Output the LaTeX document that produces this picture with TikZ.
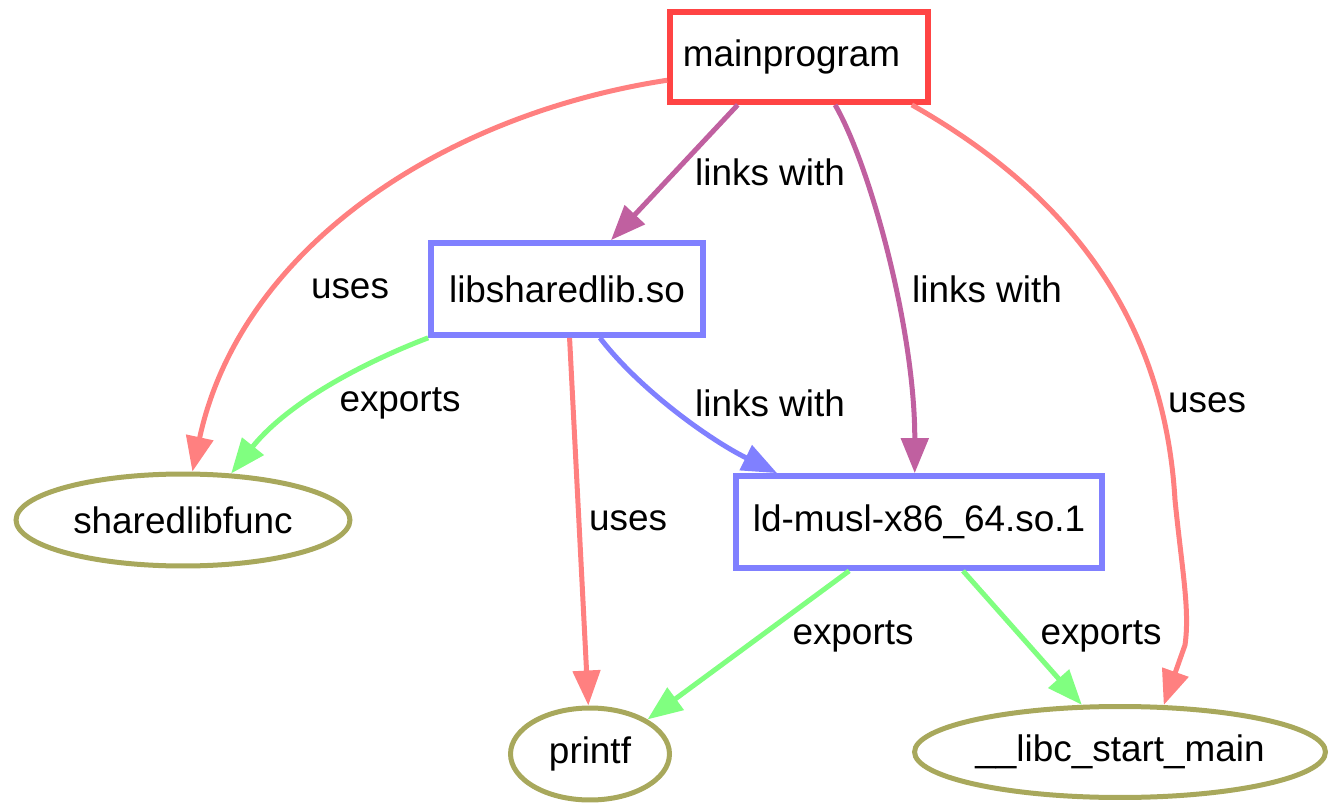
\documentclass[tikz,border=0pt]{standalone}
\usepackage{fontspec}
\setmainfont{Liberation Sans}
\usetikzlibrary{arrows.meta,shapes.geometric}

\definecolor{boxred}{HTML}{FF4444}
\definecolor{boxblue}{HTML}{8080FF}
\definecolor{symolive}{HTML}{A8A85C}
\definecolor{edgered}{HTML}{FF8080}
\definecolor{edgepurple}{HTML}{C060A0}
\definecolor{edgeblue}{HTML}{8080FF}
\definecolor{edgegreen}{HTML}{80FF80}

\begin{document}
\begin{tikzpicture}[x=0.02cm,y=-0.02cm,
  font=\fontsize{21}{25}\selectfont,
  binbox/.style={draw, rectangle, line width=0.115cm, inner sep=0pt, minimum height=1.84cm},
  symbol/.style={draw=symolive, ellipse, line width=0.1cm, inner sep=0pt, minimum height=1.84cm},
  edge/.style={line width=0.1cm, -{Triangle[length=0.7cm,width=0.54cm]}},
  uses/.style={edge, draw=edgered},
  linkswith/.style={edge, draw=edgepurple},
  libslink/.style={edge, draw=edgeblue},
  exports/.style={edge, draw=edgegreen},
  lbl/.style={inner sep=0pt, text=black}
]
\useasboundingbox (0,0) rectangle (1329,804);

% binaries
\node[binbox, draw=boxred, minimum width=5.16cm, minimum height=1.8cm] (mainprogram) at (799,57) {\hspace*{-0.3cm}mainprogram};
\node[binbox, draw=boxblue, minimum width=5.44cm] (libsharedlib) at (567,289) {libsharedlib.so};
\node[binbox, draw=boxblue, minimum width=7.32cm] (ldmusl) at (919,522) {ld-musl-x86\_64.so.1};

% symbols
\node[symbol, minimum width=6.68cm] (sharedlibfunc) at (183,520) {sharedlibfunc};
\node[symbol, minimum width=3.18cm] (printf) at (590,754) {printf};
\node[symbol, minimum width=8.22cm, minimum height=1.82cm] (libc) at (1120,752) {\_\_libc\_start\_main};

% mainprogram edges
\draw[uses] (mainprogram.190) .. controls (440,115) and (240,250) .. (sharedlibfunc.79);
\node[lbl] (l1) at (350,289) {uses};
\draw[linkswith] (mainprogram.218) -- (libsharedlib.48);
\node[lbl] (l2) at (770,172) {links with};
\draw[linkswith] (mainprogram.307) .. controls (870,165) and (915,330) .. (ldmusl.95);
\node[lbl] (l3) at (987,289) {links with};
\draw[uses] (mainprogram.337) .. controls (1080,200) and (1165,330) .. (1175,500)
  .. controls (1182,570) and (1190,610) .. (1185,645) -- (libc.47);
\node[lbl] (l4) at (1207,403) {uses};

% libsharedlib edges
\draw[exports] (libsharedlib.south west) .. controls (370,360) and (290,400) .. (sharedlibfunc.44);
\node[lbl] (l5) at (400,403) {exports};
\draw[uses] (libsharedlib.273) -- (printf.92);
\node[lbl] (l6) at (628,521) {uses};
\draw[libslink] (libsharedlib.304) .. controls (640,390) and (710,440) .. (ldmusl.161);
\node[lbl] (l7) at (770,403) {links with};

% ld-musl edges
\draw[exports] (ldmusl.215) -- (printf.31);
\node[lbl] (l8) at (853,636) {exports};
\draw[exports] (ldmusl.312) -- (libc.129);
\node[lbl] (l9) at (1101,636) {exports};
\end{tikzpicture}
\end{document}
